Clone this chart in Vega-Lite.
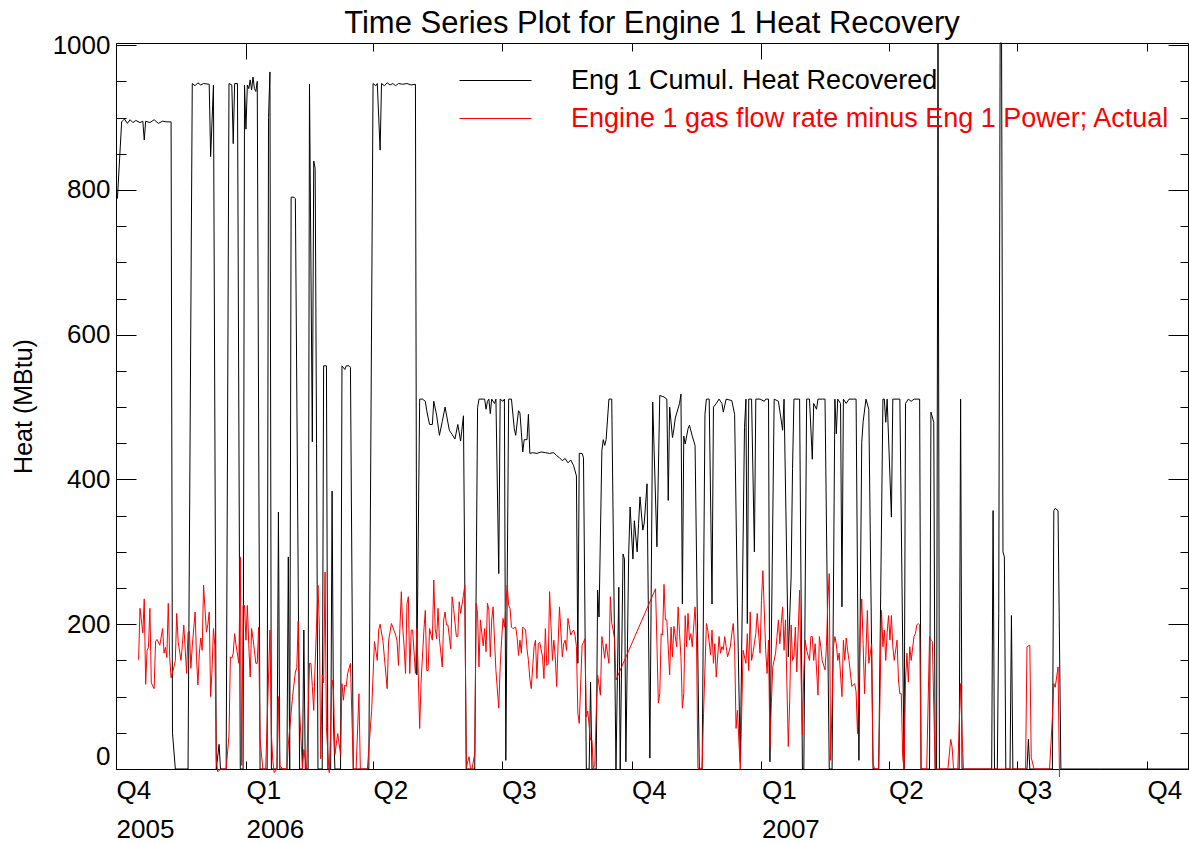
{
  "$schema": "https://vega.github.io/schema/vega-lite/v6.json",
  "width": 1072,
  "height": 726,
  "autosize": {"type": "none"},
  "padding": {"left": 116, "top": 43, "right": 1, "bottom": 75},
  "background": "white",
  "config": {
    "view": {"stroke": "black", "strokeWidth": 1},
    "font": "Liberation Sans",
    "axis": {"domain": false, "grid": false, "minExtent": 0, "tickColor": "black", "labelColor": "black", "titleColor": "black", "labelFont": "Liberation Sans", "titleFont": "Liberation Sans", "labelFontSize": 26, "tickWidth": 1}
  },
  "title": {"text": "Time Series Plot for Engine 1 Heat Recovery", "fontSize": 31, "fontWeight": "normal", "font": "Liberation Sans", "color": "black", "anchor": "middle", "frame": "group", "baseline": "alphabetic", "offset": -32},
  "datasets": {
    "heat": [
{"d":"2005-275","v":788},{"d":"2005-278","v":894},{"d":"2005-280","v":898},{"d":"2005-282","v":892},{"d":"2005-284","v":897},{"d":"2005-286","v":893},{"d":"2005-288","v":896},{"d":"2005-291","v":893},{"d":"2005-293","v":895},{"d":"2005-294","v":869},{"d":"2005-295","v":895},{"d":"2005-298","v":893},{"d":"2005-301","v":897},{"d":"2005-304","v":892},{"d":"2005-307","v":895},{"d":"2005-310","v":894},{"d":"2005-313","v":894},{"d":"2005-314","v":50},{"d":"2005-316","v":0},{"d":"2005-325","v":0},{"d":"2005-328","v":947},{"d":"2005-330","v":944},{"d":"2005-332","v":948},{"d":"2005-334","v":945},{"d":"2005-336","v":947},{"d":"2005-340","v":946},{"d":"2005-341","v":846},{"d":"2005-343","v":945},{"d":"2005-345","v":0},{"d":"2005-347","v":34},{"d":"2005-348","v":0},{"d":"2005-352","v":0},{"d":"2005-354","v":947},{"d":"2005-356","v":945},{"d":"2005-357","v":864},{"d":"2005-358","v":947},{"d":"2005-360","v":947},{"d":"2005-362","v":0},{"d":"2005-364","v":0},{"d":"2005-365","v":945},
{"d":"2006-001","v":884},{"d":"2006-002","v":945},{"d":"2006-003","v":940},{"d":"2006-004","v":952},{"d":"2006-005","v":938},{"d":"2006-006","v":956},{"d":"2006-007","v":940},{"d":"2006-008","v":936},{"d":"2006-009","v":950},{"d":"2006-011","v":0},{"d":"2006-016","v":0},{"d":"2006-017","v":900},{"d":"2006-018","v":963},{"d":"2006-019","v":0},{"d":"2006-023","v":0},{"d":"2006-024","v":355},{"d":"2006-025","v":0},{"d":"2006-030","v":0},{"d":"2006-031","v":293},{"d":"2006-032","v":0},{"d":"2006-033","v":790},{"d":"2006-035","v":790},{"d":"2006-036","v":788},{"d":"2006-039","v":0},{"d":"2006-041","v":0},{"d":"2006-042","v":192},{"d":"2006-043","v":0},{"d":"2006-045","v":0},{"d":"2006-046","v":946},{"d":"2006-048","v":452},{"d":"2006-049","v":840},{"d":"2006-050","v":830},{"d":"2006-051","v":450},{"d":"2006-052","v":0},{"d":"2006-055","v":0},{"d":"2006-056","v":557},{"d":"2006-058","v":557},{"d":"2006-059","v":0},{"d":"2006-061","v":0},{"d":"2006-062","v":384},{"d":"2006-063","v":62},{"d":"2006-064","v":0},{"d":"2006-068","v":0},{"d":"2006-069","v":557},{"d":"2006-071","v":552},{"d":"2006-072","v":557},{"d":"2006-074","v":557},{"d":"2006-075","v":555},{"d":"2006-077","v":0},{"d":"2006-088","v":0},{"d":"2006-091","v":947},{"d":"2006-093","v":944},{"d":"2006-094","v":947},{"d":"2006-096","v":855},{"d":"2006-097","v":947},{"d":"2006-099","v":944},{"d":"2006-101","v":948},{"d":"2006-103","v":945},{"d":"2006-105","v":947},{"d":"2006-107","v":944},{"d":"2006-109","v":947},{"d":"2006-112","v":946},{"d":"2006-115","v":947},{"d":"2006-118","v":945},{"d":"2006-121","v":946},{"d":"2006-122","v":130},{"d":"2006-124","v":511},{"d":"2006-126","v":511},{"d":"2006-128","v":508},{"d":"2006-129","v":495},{"d":"2006-131","v":476},{"d":"2006-133","v":476},{"d":"2006-134","v":508},{"d":"2006-136","v":489},{"d":"2006-138","v":461},{"d":"2006-140","v":480},{"d":"2006-142","v":500},{"d":"2006-145","v":468},{"d":"2006-147","v":462},{"d":"2006-149","v":456},{"d":"2006-151","v":476},{"d":"2006-153","v":453},{"d":"2006-155","v":488},{"d":"2006-157","v":0},{"d":"2006-163","v":0},{"d":"2006-165","v":499},{"d":"2006-166","v":511},{"d":"2006-170","v":511},{"d":"2006-171","v":497},{"d":"2006-172","v":508},{"d":"2006-173","v":511},{"d":"2006-174","v":491},{"d":"2006-175","v":511},{"d":"2006-177","v":505},{"d":"2006-178","v":511},{"d":"2006-180","v":270},{"d":"2006-181","v":511},{"d":"2006-183","v":508},{"d":"2006-184","v":511},{"d":"2006-185","v":12},{"d":"2006-187","v":511},{"d":"2006-189","v":511},{"d":"2006-191","v":470},{"d":"2006-192","v":461},{"d":"2006-194","v":495},{"d":"2006-195","v":492},{"d":"2006-197","v":438},{"d":"2006-198","v":455},{"d":"2006-200","v":455},{"d":"2006-201","v":490},{"d":"2006-202","v":436},{"d":"2006-204","v":437},{"d":"2006-207","v":436},{"d":"2006-210","v":438},{"d":"2006-213","v":437},{"d":"2006-216","v":436},{"d":"2006-219","v":437},{"d":"2006-221","v":433},{"d":"2006-223","v":430},{"d":"2006-225","v":426},{"d":"2006-227","v":429},{"d":"2006-229","v":423},{"d":"2006-231","v":427},{"d":"2006-233","v":419},{"d":"2006-235","v":405},{"d":"2006-236","v":146},{"d":"2006-237","v":436},{"d":"2006-239","v":436},{"d":"2006-240","v":430},{"d":"2006-242","v":0},{"d":"2006-244","v":0},{"d":"2006-245","v":120},{"d":"2006-246","v":0},{"d":"2006-249","v":0},{"d":"2006-250","v":247},{"d":"2006-251","v":210},{"d":"2006-253","v":440},{"d":"2006-254","v":455},{"d":"2006-255","v":447},{"d":"2006-256","v":455},{"d":"2006-258","v":511},{"d":"2006-260","v":511},{"d":"2006-263","v":0},{"d":"2006-265","v":251},{"d":"2006-266","v":0},{"d":"2006-268","v":297},{"d":"2006-269","v":290},{"d":"2006-270","v":10},{"d":"2006-272","v":297},{"d":"2006-273","v":362},{"d":"2006-275","v":290},{"d":"2006-276","v":343},{"d":"2006-278","v":300},{"d":"2006-279","v":339},{"d":"2006-280","v":376},{"d":"2006-282","v":330},{"d":"2006-283","v":340},{"d":"2006-285","v":394},{"d":"2006-287","v":15},{"d":"2006-289","v":507},{"d":"2006-292","v":307},{"d":"2006-294","v":516},{"d":"2006-297","v":514},{"d":"2006-299","v":511},{"d":"2006-300","v":371},{"d":"2006-301","v":500},{"d":"2006-303","v":458},{"d":"2006-304","v":470},{"d":"2006-305","v":485},{"d":"2006-308","v":505},{"d":"2006-309","v":518},{"d":"2006-310","v":228},{"d":"2006-311","v":460},{"d":"2006-312","v":449},{"d":"2006-314","v":470},{"d":"2006-315","v":475},{"d":"2006-317","v":460},{"d":"2006-319","v":447},{"d":"2006-322","v":0},{"d":"2006-324","v":0},{"d":"2006-326","v":490},{"d":"2006-327","v":511},{"d":"2006-329","v":511},{"d":"2006-331","v":228},{"d":"2006-332","v":500},{"d":"2006-334","v":505},{"d":"2006-336","v":511},{"d":"2006-338","v":505},{"d":"2006-339","v":493},{"d":"2006-341","v":511},{"d":"2006-345","v":509},{"d":"2006-347","v":490},{"d":"2006-349","v":224},{"d":"2006-351","v":10},{"d":"2006-354","v":472},{"d":"2006-355","v":511},{"d":"2006-356","v":201},{"d":"2006-357","v":511},{"d":"2006-359","v":511},{"d":"2006-361","v":300},{"d":"2006-362","v":511},{"d":"2006-365","v":511},
{"d":"2007-003","v":508},{"d":"2007-004","v":511},{"d":"2007-006","v":511},{"d":"2007-007","v":10},{"d":"2007-010","v":511},{"d":"2007-013","v":508},{"d":"2007-016","v":468},{"d":"2007-017","v":511},{"d":"2007-020","v":155},{"d":"2007-022","v":265},{"d":"2007-023","v":415},{"d":"2007-024","v":511},{"d":"2007-028","v":511},{"d":"2007-030","v":0},{"d":"2007-031","v":0},{"d":"2007-033","v":511},{"d":"2007-035","v":511},{"d":"2007-037","v":428},{"d":"2007-038","v":505},{"d":"2007-040","v":497},{"d":"2007-041","v":511},{"d":"2007-044","v":511},{"d":"2007-046","v":511},{"d":"2007-049","v":0},{"d":"2007-051","v":0},{"d":"2007-053","v":511},{"d":"2007-054","v":463},{"d":"2007-055","v":511},{"d":"2007-057","v":505},{"d":"2007-058","v":224},{"d":"2007-059","v":511},{"d":"2007-061","v":505},{"d":"2007-063","v":511},{"d":"2007-066","v":511},{"d":"2007-068","v":511},{"d":"2007-070","v":12},{"d":"2007-072","v":451},{"d":"2007-073","v":480},{"d":"2007-075","v":511},{"d":"2007-077","v":497},{"d":"2007-080","v":0},{"d":"2007-084","v":0},{"d":"2007-087","v":511},{"d":"2007-088","v":511},{"d":"2007-089","v":479},{"d":"2007-090","v":511},{"d":"2007-093","v":348},{"d":"2007-094","v":511},{"d":"2007-097","v":511},{"d":"2007-099","v":511},{"d":"2007-102","v":0},{"d":"2007-103","v":505},{"d":"2007-105","v":511},{"d":"2007-107","v":508},{"d":"2007-109","v":511},{"d":"2007-113","v":511},{"d":"2007-114","v":0},{"d":"2007-120","v":0},{"d":"2007-121","v":493},{"d":"2007-123","v":479},{"d":"2007-124","v":0},{"d":"2007-125","v":0},{"d":"2007-126","v":1003},{"d":"2007-127","v":0},{"d":"2007-141","v":0},{"d":"2007-142","v":511},{"d":"2007-143","v":0},{"d":"2007-164","v":0},{"d":"2007-165","v":357},{"d":"2007-166","v":0},{"d":"2007-168","v":0},{"d":"2007-169","v":215},{"d":"2007-170","v":1003},{"d":"2007-171","v":1003},{"d":"2007-172","v":300},{"d":"2007-173","v":293},{"d":"2007-174","v":0},{"d":"2007-177","v":0},{"d":"2007-178","v":212},{"d":"2007-179","v":0},{"d":"2007-189","v":0},{"d":"2007-190","v":41},{"d":"2007-191","v":0},{"d":"2007-207","v":0},{"d":"2007-208","v":357},{"d":"2007-209","v":360},{"d":"2007-211","v":357},{"d":"2007-213","v":0},{"d":"2007-241","v":0},{"d":"2007-303","v":0}
    ],
    "gas": [
{"d":"2005-290","v":151},{"d":"2005-291","v":222},{"d":"2005-293","v":188},{"d":"2005-294","v":235},{"d":"2005-295","v":117},{"d":"2005-296","v":164},{"d":"2005-297","v":168},{"d":"2005-298","v":222},{"d":"2005-299","v":119},{"d":"2005-301","v":111},{"d":"2005-302","v":176},{"d":"2005-303","v":179},{"d":"2005-305","v":171},{"d":"2005-307","v":194},{"d":"2005-308","v":160},{"d":"2005-309","v":168},{"d":"2005-310","v":154},{"d":"2005-311","v":229},{"d":"2005-312","v":155},{"d":"2005-313","v":126},{"d":"2005-315","v":141},{"d":"2005-316","v":150},{"d":"2005-317","v":215},{"d":"2005-318","v":176},{"d":"2005-320","v":150},{"d":"2005-321","v":172},{"d":"2005-322","v":199},{"d":"2005-324","v":132},{"d":"2005-325","v":189},{"d":"2005-326","v":190},{"d":"2005-327","v":139},{"d":"2005-328","v":170},{"d":"2005-330","v":217},{"d":"2005-331","v":155},{"d":"2005-332","v":116},{"d":"2005-333","v":160},{"d":"2005-334","v":181},{"d":"2005-335","v":164},{"d":"2005-336","v":254},{"d":"2005-338","v":189},{"d":"2005-339","v":199},{"d":"2005-340","v":217},{"d":"2005-341","v":100},{"d":"2005-342","v":137},{"d":"2005-343","v":194},{"d":"2005-344","v":170},{"d":"2005-345","v":12},{"d":"2005-346","v":-4},{"d":"2005-348","v":0},{"d":"2005-352","v":0},{"d":"2005-354","v":47},{"d":"2005-355","v":155},{"d":"2005-356","v":153},{"d":"2005-357","v":160},{"d":"2005-358","v":187},{"d":"2005-359","v":171},{"d":"2005-361","v":146},{"d":"2005-362","v":293},{"d":"2005-363","v":5},{"d":"2005-364","v":226},{"d":"2005-365","v":226},
{"d":"2006-001","v":178},{"d":"2006-002","v":226},{"d":"2006-003","v":172},{"d":"2006-004","v":127},{"d":"2006-005","v":194},{"d":"2006-006","v":180},{"d":"2006-007","v":164},{"d":"2006-008","v":146},{"d":"2006-009","v":146},{"d":"2006-010","v":196},{"d":"2006-011","v":40},{"d":"2006-013","v":0},{"d":"2006-015","v":0},{"d":"2006-018","v":192},{"d":"2006-019","v":49},{"d":"2006-020","v":12},{"d":"2006-021","v":-5},{"d":"2006-023","v":0},{"d":"2006-024","v":100},{"d":"2006-025","v":5},{"d":"2006-027","v":0},{"d":"2006-030","v":0},{"d":"2006-031","v":33},{"d":"2006-032","v":56},{"d":"2006-034","v":100},{"d":"2006-036","v":134},{"d":"2006-037","v":140},{"d":"2006-038","v":204},{"d":"2006-039","v":81},{"d":"2006-041","v":0},{"d":"2006-042","v":27},{"d":"2006-044","v":0},{"d":"2006-046","v":146},{"d":"2006-047","v":146},{"d":"2006-048","v":114},{"d":"2006-049","v":81},{"d":"2006-050","v":145},{"d":"2006-052","v":254},{"d":"2006-053","v":196},{"d":"2006-054","v":14},{"d":"2006-055","v":130},{"d":"2006-056","v":119},{"d":"2006-057","v":272},{"d":"2006-058","v":57},{"d":"2006-059","v":22},{"d":"2006-060","v":-5},{"d":"2006-062","v":123},{"d":"2006-063","v":109},{"d":"2006-064","v":20},{"d":"2006-065","v":35},{"d":"2006-066","v":49},{"d":"2006-068","v":20},{"d":"2006-069","v":118},{"d":"2006-070","v":95},{"d":"2006-071","v":116},{"d":"2006-072","v":114},{"d":"2006-073","v":132},{"d":"2006-075","v":146},{"d":"2006-077","v":0},{"d":"2006-079","v":0},{"d":"2006-081","v":104},{"d":"2006-082","v":0},{"d":"2006-087","v":0},{"d":"2006-090","v":81},{"d":"2006-092","v":176},{"d":"2006-094","v":150},{"d":"2006-095","v":192},{"d":"2006-096","v":200},{"d":"2006-098","v":177},{"d":"2006-099","v":155},{"d":"2006-101","v":111},{"d":"2006-102","v":177},{"d":"2006-104","v":201},{"d":"2006-105","v":196},{"d":"2006-107","v":185},{"d":"2006-108","v":177},{"d":"2006-109","v":143},{"d":"2006-110","v":194},{"d":"2006-111","v":245},{"d":"2006-112","v":196},{"d":"2006-113","v":169},{"d":"2006-114","v":132},{"d":"2006-115","v":228},{"d":"2006-116","v":238},{"d":"2006-117","v":132},{"d":"2006-118","v":192},{"d":"2006-119","v":192},{"d":"2006-121","v":132},{"d":"2006-122","v":194},{"d":"2006-123","v":132},{"d":"2006-124","v":56},{"d":"2006-125","v":120},{"d":"2006-127","v":192},{"d":"2006-128","v":219},{"d":"2006-129","v":136},{"d":"2006-130","v":136},{"d":"2006-131","v":194},{"d":"2006-133","v":178},{"d":"2006-134","v":261},{"d":"2006-135","v":194},{"d":"2006-136","v":180},{"d":"2006-137","v":222},{"d":"2006-138","v":180},{"d":"2006-140","v":141},{"d":"2006-141","v":206},{"d":"2006-142","v":217},{"d":"2006-143","v":199},{"d":"2006-144","v":199},{"d":"2006-146","v":166},{"d":"2006-147","v":238},{"d":"2006-148","v":222},{"d":"2006-150","v":183},{"d":"2006-151","v":183},{"d":"2006-152","v":231},{"d":"2006-153","v":215},{"d":"2006-155","v":240},{"d":"2006-156","v":254},{"d":"2006-157","v":1},{"d":"2006-158","v":10},{"d":"2006-159","v":17},{"d":"2006-160","v":0},{"d":"2006-161","v":0},{"d":"2006-163","v":21},{"d":"2006-164","v":229},{"d":"2006-165","v":215},{"d":"2006-166","v":141},{"d":"2006-167","v":206},{"d":"2006-169","v":170},{"d":"2006-170","v":194},{"d":"2006-171","v":162},{"d":"2006-172","v":229},{"d":"2006-173","v":220},{"d":"2006-174","v":155},{"d":"2006-175","v":206},{"d":"2006-176","v":224},{"d":"2006-177","v":178},{"d":"2006-178","v":136},{"d":"2006-180","v":84},{"d":"2006-181","v":141},{"d":"2006-182","v":178},{"d":"2006-183","v":208},{"d":"2006-184","v":196},{"d":"2006-186","v":254},{"d":"2006-187","v":226},{"d":"2006-188","v":222},{"d":"2006-189","v":196},{"d":"2006-190","v":194},{"d":"2006-192","v":196},{"d":"2006-193","v":182},{"d":"2006-194","v":157},{"d":"2006-195","v":178},{"d":"2006-196","v":160},{"d":"2006-197","v":196},{"d":"2006-199","v":192},{"d":"2006-200","v":166},{"d":"2006-201","v":150},{"d":"2006-202","v":125},{"d":"2006-203","v":111},{"d":"2006-205","v":169},{"d":"2006-206","v":178},{"d":"2006-207","v":125},{"d":"2006-208","v":173},{"d":"2006-209","v":175},{"d":"2006-211","v":155},{"d":"2006-212","v":125},{"d":"2006-213","v":194},{"d":"2006-214","v":143},{"d":"2006-215","v":145},{"d":"2006-216","v":245},{"d":"2006-218","v":150},{"d":"2006-219","v":178},{"d":"2006-220","v":155},{"d":"2006-221","v":114},{"d":"2006-222","v":171},{"d":"2006-223","v":224},{"d":"2006-225","v":155},{"d":"2006-226","v":173},{"d":"2006-227","v":178},{"d":"2006-228","v":164},{"d":"2006-229","v":208},{"d":"2006-231","v":185},{"d":"2006-232","v":189},{"d":"2006-233","v":192},{"d":"2006-234","v":185},{"d":"2006-235","v":169},{"d":"2006-236","v":77},{"d":"2006-237","v":63},{"d":"2006-239","v":171},{"d":"2006-240","v":175},{"d":"2006-241","v":180},{"d":"2006-242","v":72},{"d":"2006-243","v":80},{"d":"2006-245","v":40},{"d":"2006-246","v":40},{"d":"2006-247","v":1},{"d":"2006-248","v":5},{"d":"2006-249","v":77},{"d":"2006-250","v":130},{"d":"2006-252","v":102},{"d":"2006-253","v":183},{"d":"2006-255","v":153},{"d":"2006-256","v":173},{"d":"2006-258","v":146},{"d":"2006-259","v":238},{"d":"2006-260","v":202},{"d":"2006-261","v":192},{"d":"2006-262","v":180},{"d":"2006-263","v":123},{"d":"2006-291","v":249},{"d":"2006-292","v":173},{"d":"2006-293","v":91},{"d":"2006-294","v":104},{"d":"2006-295","v":187},{"d":"2006-296","v":185},{"d":"2006-297","v":255},{"d":"2006-298","v":206},{"d":"2006-299","v":206},{"d":"2006-301","v":130},{"d":"2006-302","v":196},{"d":"2006-303","v":155},{"d":"2006-304","v":197},{"d":"2006-306","v":169},{"d":"2006-307","v":224},{"d":"2006-308","v":187},{"d":"2006-309","v":155},{"d":"2006-310","v":84},{"d":"2006-311","v":104},{"d":"2006-312","v":212},{"d":"2006-313","v":169},{"d":"2006-314","v":215},{"d":"2006-315","v":178},{"d":"2006-316","v":187},{"d":"2006-317","v":169},{"d":"2006-319","v":224},{"d":"2006-320","v":178},{"d":"2006-321","v":1},{"d":"2006-324","v":1},{"d":"2006-325","v":77},{"d":"2006-327","v":201},{"d":"2006-328","v":192},{"d":"2006-330","v":158},{"d":"2006-331","v":192},{"d":"2006-332","v":146},{"d":"2006-333","v":173},{"d":"2006-334","v":127},{"d":"2006-336","v":183},{"d":"2006-337","v":160},{"d":"2006-338","v":169},{"d":"2006-339","v":165},{"d":"2006-340","v":183},{"d":"2006-341","v":169},{"d":"2006-342","v":155},{"d":"2006-344","v":169},{"d":"2006-345","v":187},{"d":"2006-346","v":201},{"d":"2006-347","v":169},{"d":"2006-348","v":56},{"d":"2006-349","v":81},{"d":"2006-350","v":40},{"d":"2006-351","v":0},{"d":"2006-352","v":77},{"d":"2006-353","v":164},{"d":"2006-355","v":146},{"d":"2006-356","v":187},{"d":"2006-357","v":136},{"d":"2006-358","v":217},{"d":"2006-359","v":150},{"d":"2006-360","v":160},{"d":"2006-362","v":187},{"d":"2006-363","v":215},{"d":"2006-365","v":160},
{"d":"2007-001","v":233},{"d":"2007-002","v":274},{"d":"2007-004","v":164},{"d":"2007-005","v":132},{"d":"2007-006","v":178},{"d":"2007-007","v":31},{"d":"2007-008","v":91},{"d":"2007-009","v":141},{"d":"2007-011","v":160},{"d":"2007-012","v":183},{"d":"2007-013","v":206},{"d":"2007-014","v":173},{"d":"2007-015","v":201},{"d":"2007-016","v":224},{"d":"2007-017","v":164},{"d":"2007-018","v":206},{"d":"2007-020","v":31},{"d":"2007-021","v":95},{"d":"2007-022","v":199},{"d":"2007-023","v":150},{"d":"2007-024","v":155},{"d":"2007-025","v":196},{"d":"2007-026","v":134},{"d":"2007-028","v":247},{"d":"2007-029","v":132},{"d":"2007-030","v":47},{"d":"2007-031","v":137},{"d":"2007-032","v":178},{"d":"2007-033","v":164},{"d":"2007-035","v":150},{"d":"2007-036","v":183},{"d":"2007-037","v":183},{"d":"2007-038","v":150},{"d":"2007-039","v":173},{"d":"2007-041","v":102},{"d":"2007-042","v":183},{"d":"2007-043","v":169},{"d":"2007-044","v":150},{"d":"2007-046","v":137},{"d":"2007-047","v":169},{"d":"2007-048","v":233},{"d":"2007-049","v":270},{"d":"2007-050","v":12},{"d":"2007-052","v":169},{"d":"2007-053","v":183},{"d":"2007-054","v":173},{"d":"2007-055","v":150},{"d":"2007-056","v":160},{"d":"2007-058","v":100},{"d":"2007-059","v":178},{"d":"2007-060","v":150},{"d":"2007-061","v":181},{"d":"2007-062","v":164},{"d":"2007-063","v":150},{"d":"2007-065","v":114},{"d":"2007-066","v":116},{"d":"2007-067","v":118},{"d":"2007-068","v":107},{"d":"2007-069","v":49},{"d":"2007-071","v":192},{"d":"2007-072","v":235},{"d":"2007-073","v":172},{"d":"2007-074","v":104},{"d":"2007-076","v":219},{"d":"2007-077","v":146},{"d":"2007-078","v":159},{"d":"2007-079","v":173},{"d":"2007-080","v":8},{"d":"2007-081","v":0},{"d":"2007-084","v":0},{"d":"2007-085","v":109},{"d":"2007-086","v":219},{"d":"2007-087","v":169},{"d":"2007-088","v":192},{"d":"2007-089","v":150},{"d":"2007-090","v":189},{"d":"2007-091","v":212},{"d":"2007-092","v":178},{"d":"2007-093","v":212},{"d":"2007-094","v":169},{"d":"2007-095","v":150},{"d":"2007-097","v":178},{"d":"2007-098","v":123},{"d":"2007-099","v":104},{"d":"2007-100","v":104},{"d":"2007-101","v":16},{"d":"2007-102","v":0},{"d":"2007-103","v":123},{"d":"2007-104","v":160},{"d":"2007-105","v":120},{"d":"2007-106","v":169},{"d":"2007-107","v":150},{"d":"2007-109","v":183},{"d":"2007-110","v":187},{"d":"2007-111","v":199},{"d":"2007-112","v":201},{"d":"2007-113","v":199},{"d":"2007-114","v":0},{"d":"2007-118","v":0},{"d":"2007-120","v":183},{"d":"2007-121","v":178},{"d":"2007-122","v":176},{"d":"2007-124","v":0},{"d":"2007-133","v":0},{"d":"2007-135","v":41},{"d":"2007-136","v":30},{"d":"2007-137","v":0},{"d":"2007-140","v":0},{"d":"2007-142","v":118},{"d":"2007-143","v":49},{"d":"2007-144","v":0},{"d":"2007-188","v":0},{"d":"2007-189","v":169},{"d":"2007-191","v":171},{"d":"2007-192","v":16},{"d":"2007-194","v":0},{"d":"2007-205","v":0},{"d":"2007-207","v":72},{"d":"2007-208","v":118},{"d":"2007-209","v":113},{"d":"2007-211","v":141},{"d":"2007-212","v":-11}
    ]
  },
  "layer": [
    {
      "data": {"name": "heat", "format": {"parse": {"d": "utc:'%Y-%j'"}}},
      "mark": {"type": "line", "strokeWidth": 1, "clip": false},
      "encoding": {
        "x": {
          "field": "d", "type": "temporal",
          "scale": {"type": "utc", "domain": [{"year": 2005, "month": "oct", "date": 1, "utc": true}, {"year": 2007, "month": "oct", "date": 30, "utc": true}]},
          "axis": {
            "orient": "bottom", "title": null,
            "values": [{"year": 2005, "month": "oct", "date": 1, "utc": true}, {"year": 2006, "month": "jan", "date": 1, "utc": true}, {"year": 2006, "month": "apr", "date": 1, "utc": true}, {"year": 2006, "month": "jul", "date": 1, "utc": true}, {"year": 2006, "month": "oct", "date": 1, "utc": true}, {"year": 2007, "month": "jan", "date": 1, "utc": true}, {"year": 2007, "month": "apr", "date": 1, "utc": true}, {"year": 2007, "month": "jul", "date": 1, "utc": true}, {"year": 2007, "month": "oct", "date": 1, "utc": true}],
            "tickSize": -8, "labelPadding": 16, "labelAlign": "left", "labelBaseline": "top",
            "labelFlush": false, "labelOverlap": false, "labelBound": false, "labelLineHeight": 39, "labelFontSize": 26,
            "labelExpr": "['Q' + (floor(utcmonth(datum.value)/3)+1), (utcmonth(datum.value) == 0 || utcyear(datum.value) == 2005) ? '' + utcyear(datum.value) : '']"
          }
        },
        "y": {
          "field": "v", "type": "quantitative",
          "scale": {"domain": [0, 1003], "nice": false, "zero": false},
          "axis": {
            "orient": "left", "format": "d",
            "values": [0,50,100,150,200,250,300,350,400,450,500,550,600,650,700,750,800,850,900,950,1000],
            "tickSize": {"condition": {"test": "datum.value % 200 == 0", "value": -20}, "value": -10},
            "labelExpr": "datum.value % 200 == 0 ? datum.label : ''",
            "labelPadding": 26, "labelFlush": true, "labelOverlap": false, "labelFontSize": 26,
            "title": "Heat (MBtu)", "titleFontSize": 25, "titleFontWeight": "normal", "titlePadding": 16
          }
        },
        "color": {
          "datum": "Eng 1 Cumul. Heat Recovered", "type": "nominal",
          "scale": {"domain": ["Eng 1 Cumul. Heat Recovered", "Engine 1 gas flow rate minus Eng 1 Power; Actual"], "range": ["black", "red"]},
          "legend": {
            "orient": "none", "legendX": 366, "legendY": 24, "title": null,
            "symbolType": "M-3,0H3", "symbolSize": 576, "symbolStrokeWidth": 1,
            "labelFont": "Liberation Sans", "labelFontSize": 27, "labelOffset": 62, "rowPadding": 10, "padding": 0, "labelLimit": 800,
            "encode": {"labels": {"update": {"fill": {"signal": "datum.value === 'Eng 1 Cumul. Heat Recovered' ? 'black' : 'red'"}}}}
          }
        }
      }
    },
    {
      "data": {"name": "gas", "format": {"parse": {"d": "utc:'%Y-%j'"}}},
      "mark": {"type": "line", "strokeWidth": 1, "clip": false},
      "encoding": {
        "x": {
          "field": "d", "type": "temporal",
          "scale": {"type": "utc", "domain": [{"year": 2005, "month": "oct", "date": 1, "utc": true}, {"year": 2007, "month": "oct", "date": 30, "utc": true}]},
          "axis": {
            "orient": "top", "title": null, "labels": false, "minExtent": 0, "maxExtent": 0,
            "values": [{"year": 2005, "month": "oct", "date": 1, "utc": true}, {"year": 2006, "month": "jan", "date": 1, "utc": true}, {"year": 2006, "month": "apr", "date": 1, "utc": true}, {"year": 2006, "month": "jul", "date": 1, "utc": true}, {"year": 2006, "month": "oct", "date": 1, "utc": true}, {"year": 2007, "month": "jan", "date": 1, "utc": true}, {"year": 2007, "month": "apr", "date": 1, "utc": true}, {"year": 2007, "month": "jul", "date": 1, "utc": true}, {"year": 2007, "month": "oct", "date": 1, "utc": true}],
            "tickSize": {"condition": {"test": "utcmonth(datum.value) == 0", "value": -16}, "value": -8}
          }
        },
        "y": {
          "field": "v", "type": "quantitative",
          "scale": {"domain": [0, 1003], "nice": false, "zero": false},
          "axis": {
            "orient": "right", "title": null, "labels": false,
            "values": [0,50,100,150,200,250,300,350,400,450,500,550,600,650,700,750,800,850,900,950,1000],
            "tickSize": {"condition": {"test": "datum.value % 200 == 0", "value": -20}, "value": -8}
          }
        },
        "color": {
          "datum": "Engine 1 gas flow rate minus Eng 1 Power; Actual", "type": "nominal",
          "scale": {"domain": ["Eng 1 Cumul. Heat Recovered", "Engine 1 gas flow rate minus Eng 1 Power; Actual"], "range": ["black", "red"]},
          "legend": {
            "orient": "none", "legendX": 366, "legendY": 24, "title": null,
            "symbolType": "M-3,0H3", "symbolSize": 576, "symbolStrokeWidth": 1,
            "labelFont": "Liberation Sans", "labelFontSize": 27, "labelOffset": 62, "rowPadding": 10, "padding": 0, "labelLimit": 800,
            "encode": {"labels": {"update": {"fill": {"signal": "datum.value === 'Eng 1 Cumul. Heat Recovered' ? 'black' : 'red'"}}}}
          }
        }
      }
    }
  ],
  "resolve": {"axis": {"x": "independent", "y": "independent"}}
}
